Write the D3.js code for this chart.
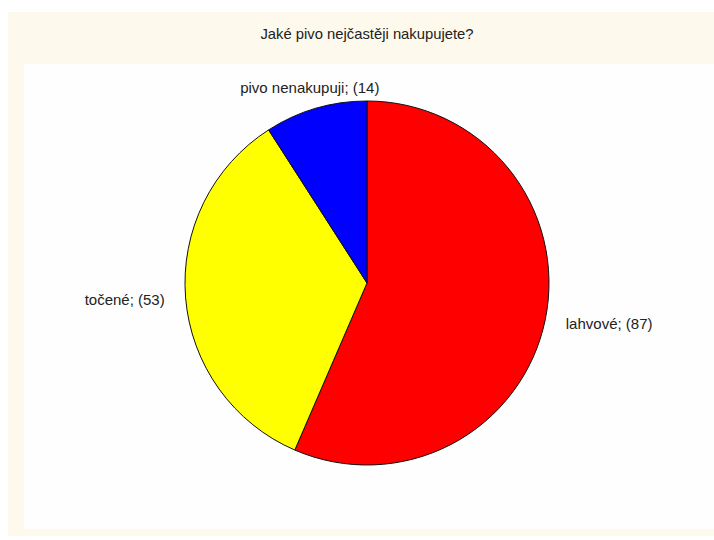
<!DOCTYPE html>
<html>
<head>
<meta charset="utf-8">
<script src="https://cdn.jsdelivr.net/npm/d3@7"></script>
<style>
  body { margin: 0; background: #fff; }
  svg text { font-family: "Liberation Sans", Arial, sans-serif; fill: #222; }
</style>
</head>
<body>
<div id="chart"></div>
<script>
const title = "Jaké pivo nejčastěji nakupujete?";
const categories = ["lahvové", "točené", "pivo nenakupuji"];
const counts = [87, 53, 14];
const colors = ["#ff0000", "#ffff00", "#0000ff"];

const width = 714, height = 540;
const cx = 367, cy = 283, radius = 182, labelRadius = 203;

const svg = d3.select("#chart").append("svg")
  .attr("width", width)
  .attr("height", height);

// cream frame + white plot panel
svg.append("rect")
  .attr("x", 8).attr("y", 12)
  .attr("width", width - 8).attr("height", 524)
  .attr("fill", "#fdf9ec");
svg.append("rect")
  .attr("x", 24).attr("y", 64)
  .attr("width", width - 24).attr("height", 465)
  .attr("fill", "#fefefe");

svg.append("text")
  .attr("x", cx).attr("y", 39)
  .attr("text-anchor", "middle")
  .style("font-size", "14.8px")
  .text(title);

const data = categories.map((c, i) => ({ name: c, value: counts[i], color: colors[i] }));

const pie = d3.pie()
  .value(d => d.value)
  .sort(null);

const arc = d3.arc()
  .innerRadius(0)
  .outerRadius(radius);

const arcs = pie(data);

const g = svg.append("g")
  .attr("transform", `translate(${cx},${cy})`);

g.selectAll("path")
  .data(arcs)
  .join("path")
  .attr("d", arc)
  .attr("fill", d => d.data.color)
  .attr("stroke", "#111")
  .attr("stroke-width", 1);

g.selectAll("text.lbl")
  .data(arcs)
  .join("text")
  .attr("class", "lbl")
  .each(function(d) {
    const a = (d.startAngle + d.endAngle) / 2;
    const x = Math.sin(a) * labelRadius;
    const y = -Math.cos(a) * labelRadius;
    let anchor = "middle";
    if (Math.sin(a) > 0.5) anchor = "start";
    else if (Math.sin(a) < -0.5) anchor = "end";
    d3.select(this)
      .attr("x", x)
      .attr("y", y)
      .attr("dy", "0.35em")
      .attr("text-anchor", anchor);
  })
  .style("font-size", "15px")
  .text(d => `${d.data.name}; (${d.data.value})`);
</script>
</body>
</html>
